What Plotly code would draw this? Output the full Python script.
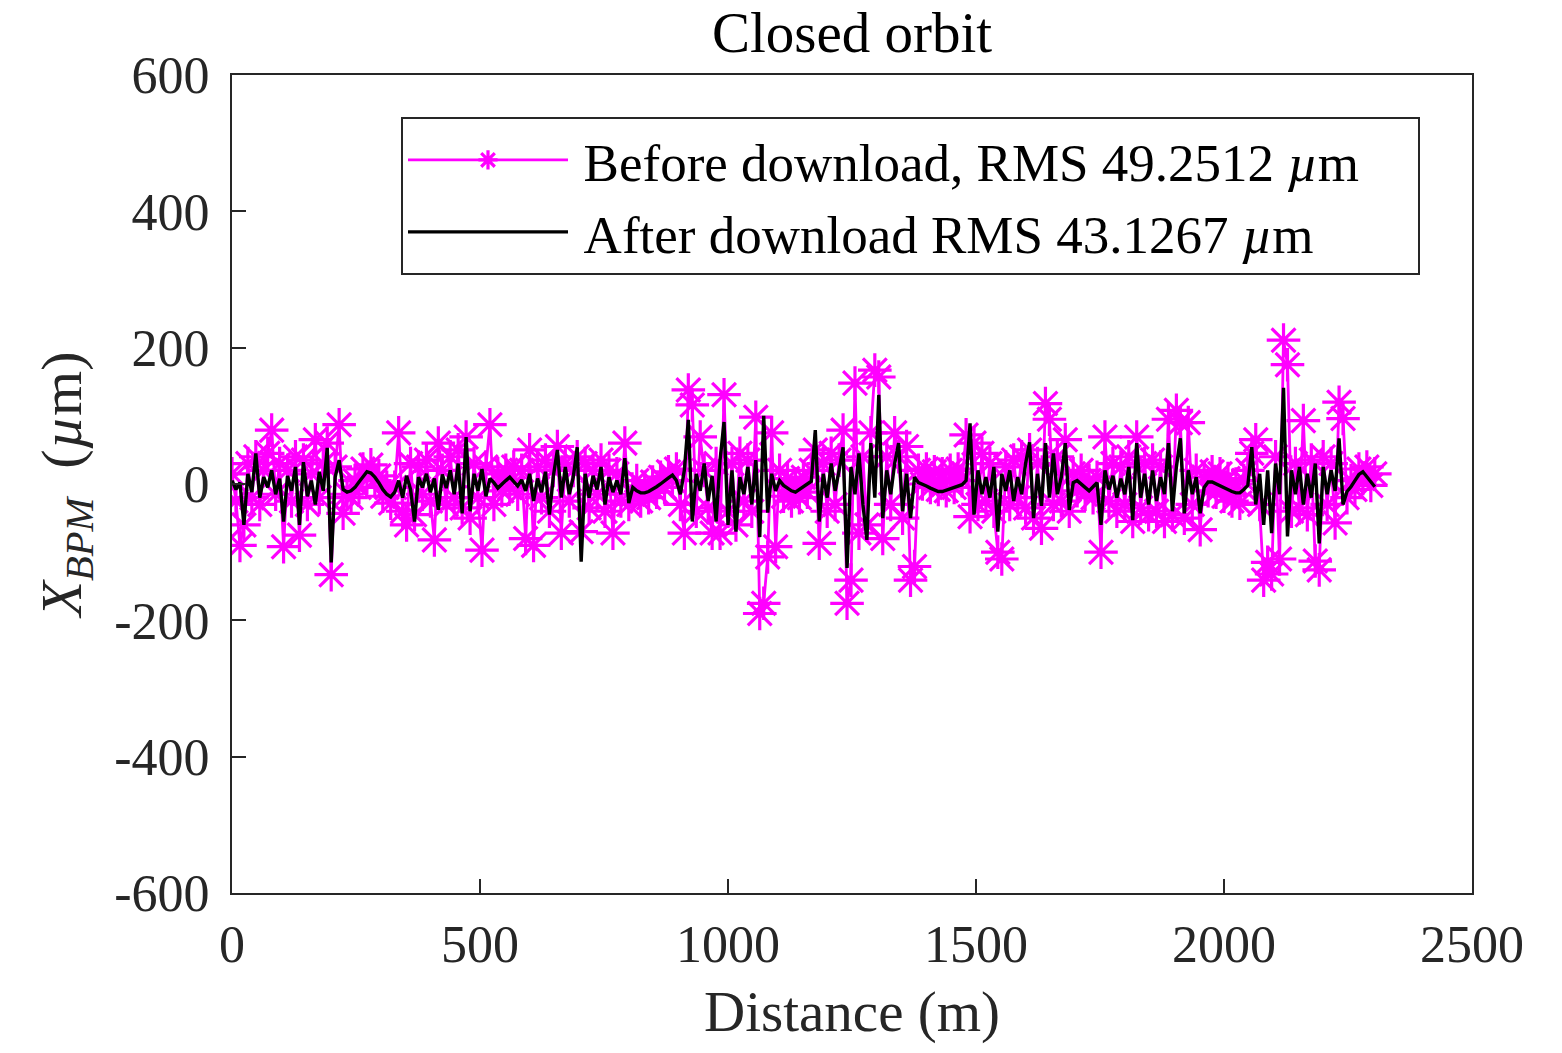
import plotly.graph_objects as go

# ---------------- data ----------------
distance_m = [
    0, 8, 16, 24, 32, 40, 48, 56, 64, 72, 80, 88, 96, 104, 112, 120, 128, 136, 144, 152,
    160, 168, 176, 184, 192, 200, 208, 216, 224, 232, 240, 248, 256, 264, 272, 280, 288, 296, 304, 312,
    320, 328, 336, 344, 352, 360, 368, 376, 384, 392, 400, 408, 416, 424, 432, 440, 448, 456, 464, 472,
    480, 488, 496, 504, 512, 520, 528, 536, 544, 552, 560, 568, 576, 584, 592, 600, 608, 616, 624, 632,
    640, 648, 656, 664, 672, 680, 688, 696, 704, 712, 720, 728, 736, 744, 752, 760, 768, 776, 784, 792,
    800, 808, 816, 824, 832, 840, 848, 856, 864, 872, 880, 888, 896, 904, 912, 920, 928, 936, 944, 952,
    960, 968, 976, 984, 992, 1000, 1008, 1016, 1024, 1032, 1040, 1048, 1056, 1064, 1072, 1080, 1088, 1096, 1104, 1112,
    1120, 1128, 1136, 1144, 1152, 1160, 1168, 1176, 1184, 1192, 1200, 1208, 1216, 1224, 1232, 1240, 1248, 1256, 1264, 1272,
    1280, 1288, 1296, 1304, 1312, 1320, 1328, 1336, 1344, 1352, 1360, 1368, 1376, 1384, 1392, 1400, 1408, 1416, 1424, 1432,
    1440, 1448, 1456, 1464, 1472, 1480, 1488, 1496, 1504, 1512, 1520, 1528, 1536, 1544, 1552, 1560, 1568, 1576, 1584, 1592,
    1600, 1608, 1616, 1624, 1632, 1640, 1648, 1656, 1664, 1672, 1680, 1688, 1696, 1704, 1712, 1720, 1728, 1736, 1744, 1752,
    1760, 1768, 1776, 1784, 1792, 1800, 1808, 1816, 1824, 1832, 1840, 1848, 1856, 1864, 1872, 1880, 1888, 1896, 1904, 1912,
    1920, 1928, 1936, 1944, 1952, 1960, 1968, 1976, 1984, 1992, 2000, 2008, 2016, 2024, 2032, 2040, 2048, 2056, 2064, 2072,
    2080, 2088, 2096, 2104, 2112, 2120, 2128, 2136, 2144, 2152, 2160, 2168, 2176, 2184, 2192, 2200, 2208, 2216, 2224, 2232,
    2240, 2248, 2256, 2264, 2272, 2280, 2288, 2296, 2304,
]

x_before_um = [
    # 0 - 232
    15, -25, -90, -60, 30, -20, 40, -30, 20, 45, 79, -15, 30, -92, 20, -25, 40, -75, 35, -30,
    15, 65, -20, 30, 60, -133, 25, 87, -43, -15,
    # 240 - 328
    -20, 5, -5, 22, 10, 28, 5, 12, -18, -5, -28, -5,
    # 336 - 800
    75, -40, -60, 30, -45, 25, -15, 35, -25, -82,
    60, 20, -30, 40, -20, 50, -35, 69, -50, 30,
    -20, -97, 25, 87, -30, 15, -10, 20, -5, 25,
    -15, 20, -80, 50, -90, 25, -20, 35, -40, 20,
    55, -72, 30, -25, 20, 40, -70, 30, -35, 20,
    -15, 35, -40, 20, -72, 15, -25, 60, -30,
    # 808 - 896
    -15, 5, -25, -5, -20, 3, -12, 10, -5, 18, 5, 22,
    # 904 - 1104
    -30, -72, 138, 116, -40, 69, 20, -35, -72, 30, -72, 131, -40, 30, -60, 45, -25, 35, -40, 98,
    -190, -175, -107, 75, -92, 20,
    # 1112 - 1168
    -18, 8, -25, 0, -20, 10, -12, 20,
    # 1176 - 1376
    50, -87, 30, -40, 45, -30, 35, 79, -175, -141, 148, -72, 40, -60, 75, 167, 157, -80, 40, -30,
    75, 40, -50, 55, -141, -121,
    # 1384 - 1480
    20, 0, 22, -5, 18, -8, 15, -10, 20, -5, 22, 5, 72,
    # 1488 - 1680
    -48, 60, -30, 45, -25, 30, -40, -100, -110, 25, -30, 35, -20, 40, -35, 50, -50, 30, -65, 118,
    95, -30, 40, -25, 65,
    # 1688 - 1744
    -40, 15, -10, 20, -15, 5, -20, 10,
    # 1752 - 1952
    -100, 69, -25, 30, -40, 25, -30, 40, -55, 69, -35, 30, -45, 35, -40, 25, -55, 95, -45, 108,
    90, -50, 90, -30, 20, -67,
    # 1960 - 2048
    10, -10, 18, -12, 15, -18, 8, -25, 0, -28, 5, 20,
    # 2056 - 2240
    45, 65, -30, -141, -115, -132, 40, -110, 211, 175, -40, 30, -35, 93, -45, 35, -113, -126, 40, -30,
    30, -57, 120, 96,
    # 2248 - 2304
    -20, 5, -8, 22, 8, 25, -2, 15,
]

x_after_um = [
    # 0 - 232
    5, -8, 2, -60, 15, -12, 45, -20, 10, -5, 20, -15, 8, -55, 12, -10, 25, -60, 32, -18,
    5, -30, 18, -10, 53, -115, 10, 35, -8, -12,
    # 240 - 328
    -10, -5, 3, 10, 18, 16, 10, 2, -8, -15, -19, -12,
    # 336 - 800
    5, -20, 12, -8, -55, 10, -5, 15, -12, 8,
    -38, 14, -6, 20, -15, 30, -43, 69, -40, 15,
    -10, 22, -18, 8, 2, -6, 0, 5, 10, 4,
    -3, 6, -10, 15, -25, 8, -12, 18, -45, 12,
    50, -20, 25, -15, 10, 54, -114, 15, -20, 12,
    -8, 25, -30, 10, -12, 5, -15, 38, -28,
    # 808 - 896
    -5, -10, -13, -13, -11, -8, -4, 0, 5, 9, 13, 5,
    # 904 - 1104
    -15, 20, 94, -55, 15, -10, 30, -25, 12, -55, 35, 91, -60, 20, -70, 10, -15, 25, -30, 35,
    -78, 100, -42, 15, -10, 5,
    # 1112 - 1168
    -2, -6, -10, -12, -8, -3, 0, 4,
    # 1176 - 1376
    79, -55, 15, -20, 30, -10, 20, 54, -123, 25, -15, 45, -30, -82, 60, -20, 131, -50, 20, -15,
    30, 60, -40, 15, -50, 10,
    # 1384 - 1480
    2, 0, -3, -6, -9, -11, -11, -9, -7, -5, -3, -1, 5,
    # 1488 - 1680
    89, -45, 20, -15, 10, -20, 25, -70, 15, -10, 20, -25, 10, -15, 30, 61, -50, 15, -32, 60,
    -20, 45, -15, 10, 60,
    # 1688 - 1744
    -38, 2, 5, 0, -6, -10, -4, 2,
    # 1752 - 1952
    -60, 20, -8, 12, -20, 8, -15, 25, -53, 60, -20, 15, -30, 20, -25, 10, -15, 60, -40, 25,
    67, -43, 20, -15, 10, -43,
    # 1960 - 2048
    -5, 3, 3, 0, -3, -6, -9, -11, -13, -13, -8, -2,
    # 2056 - 2240
    54, -30, 15, -60, 20, -72, 30, -15, 141, -77, 20, -15, 25, -30, 15, -20, 30, -87, 25, -15,
    20, -10, 67, -30,
    # 2248 - 2304
    -11, -4, 5, 14, 18, 10, 3, -4,
]

x_tick_vals = [0, 500, 1000, 1500, 2000, 2500]
x_tick_text = ["0", "500", "1000", "1500", "2000", "2500"]
y_tick_vals = [-600, -400, -200, 0, 200, 400, 600]
y_tick_text = ["-600", "-400", "-200", "0", "200", "400", "600"]

label_before = "\u2009Before download, RMS 49.2512 <i>µ</i>m\u2003"
label_after = "\u2009After download RMS 43.1267 <i>µ</i>m"

# ---------------- figure ----------------
FONT = "Liberation Serif"
AX = "#262626"

fig = go.Figure()
fig.add_trace(go.Scatter(
    x=distance_m, y=x_before_um, mode="lines+markers", name=label_before,
    line=dict(color="#FF00FF", width=2.8),
    marker=dict(symbol="asterisk-open", size=28, color="#FF00FF",
                line=dict(color="#FF00FF", width=3.2)),
))
fig.add_trace(go.Scatter(
    x=distance_m, y=x_after_um, mode="lines", name=label_after,
    line=dict(color="#000000", width=3.4),
))

axis_common = dict(
    showline=True, mirror=True, linecolor=AX, linewidth=2,
    ticks="inside", ticklen=14, tickwidth=2, tickcolor=AX,
    showgrid=False, zeroline=False,
    tickfont=dict(family=FONT, size=52, color=AX),
)

fig.update_layout(
    width=1562, height=1053,
    margin=dict(l=232, r=90, t=75, b=160),
    paper_bgcolor="white", plot_bgcolor="white",
    font=dict(family=FONT, color="#000000"),
    title=dict(text="Closed orbit", x=0.5, xref="paper", xanchor="center",
               y=1 - 32 / 1053, yanchor="middle",
               font=dict(family=FONT, size=57, color="#000000")),
    xaxis=dict(range=[0, 2500], tickvals=x_tick_vals, ticktext=x_tick_text,
               ticklabelstandoff=5,
               title=dict(text="Distance (m)", standoff=19,
                          font=dict(family=FONT, size=57, color=AX)),
               **axis_common),
    yaxis=dict(range=[-600, 600], tickvals=y_tick_vals, ticktext=y_tick_text,
               ticklabelstandoff=10,
               title=dict(text="<i>X</i><sub><i>BPM</i></sub>  (<i>µ</i>m)", standoff=14,
                          font=dict(family=FONT, size=58, color=AX)),
               **axis_common),
    showlegend=True,
    legend=dict(x=(401 - 232) / 1240, y=(893 - 117) / 818, xanchor="left", yanchor="top",
                bgcolor="white", bordercolor=AX, borderwidth=2,
                font=dict(family=FONT, size=53, color="#000000"),
                itemwidth=160, tracegroupgap=0),
)

fig.write_html("out.html")
